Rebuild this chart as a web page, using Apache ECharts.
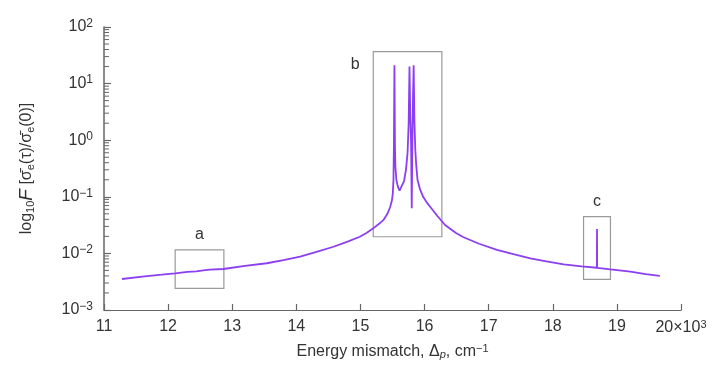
<!DOCTYPE html>
<html>
<head>
<meta charset="utf-8">
<script src="https://cdn.jsdelivr.net/npm/echarts@6/dist/echarts.min.js"></script>
<style>
  html, body { margin: 0; padding: 0; background: #fff; }
  #chart { width: 717px; height: 370px; }
</style>
</head>
<body>
<div id="chart"></div>
<script>
// energy mismatch, units of 10^3 cm-1
const xValues = [
  11.28, 11.6, 11.9, 12.11, 12.3, 12.44, 12.45, 12.455, 12.46, 12.55, 12.65, 12.66, 12.67, 12.86,
  13.2, 13.54, 13.8, 14.06, 14.3, 14.58, 14.8, 14.99, 15.1, 15.2, 15.3, 15.36, 15.42, 15.46,
  15.49, 15.505, 15.515, 15.522, 15.53, 15.538, 15.545, 15.56, 15.585, 15.61, 15.64, 15.68, 15.71,
  15.735, 15.752, 15.765, 15.778, 15.79, 15.80, 15.81, 15.82, 15.83, 15.842, 15.855, 15.87, 15.89,
  15.93, 15.98, 16.04, 16.09, 16.2, 16.32, 16.49, 16.6, 16.85, 17.13, 17.4, 17.65, 17.9, 18.17,
  18.45, 18.688, 18.69, 18.692, 18.9, 19.21, 19.45, 19.67
];
// F = sigma_e(tau)/sigma_e(0)
const fValues = [
  0.00353, 0.0039, 0.0042, 0.00445, 0.0047, 0.00482, 0.0052, 0.00455, 0.00484, 0.0050, 0.00515,
  0.0054, 0.00516, 0.0053, 0.0060, 0.0067, 0.0076, 0.00875, 0.0105, 0.0131, 0.0162, 0.0197,
  0.0232, 0.0277, 0.034, 0.039, 0.050, 0.064, 0.085, 0.115, 0.2, 0.8, 21, 0.8, 0.35, 0.2, 0.15,
  0.128, 0.138, 0.19, 0.3, 0.6, 2, 20, 2.5, 0.9, 0.063, 1, 6, 21, 2.2, 0.7, 0.36, 0.2,
  0.135, 0.099, 0.078, 0.066, 0.0458, 0.0318, 0.0229, 0.0195, 0.0148, 0.0115, 0.0096, 0.0082,
  0.0072, 0.0064, 0.0059, 0.00558, 0.027, 0.00556, 0.0052, 0.00475, 0.0043, 0.0040
];

const yDecades = [-3, -2, -1, 0, 1];
const minorMultipliers = [2, 3, 4, 5, 6, 7, 8, 9];

// boxes: name, x range, F range
const boxNames = ['a', 'b', 'c'];
const boxX = [[12.11, 12.87], [15.20, 16.27], [18.48, 18.90]];
const boxF = [[0.00242, 0.0115], [0.0197, 36.6], [0.00348, 0.0445]];

const minorTickData = [];
yDecades.forEach(d => {
  minorMultipliers.forEach(m => minorTickData.push([11, d + Math.log10(m)]));
});

const lineData = xValues.map((x, i) => [x, Math.log10(fValues[i])]);

const textColor = '#333';
const axisColor = '#666';
const font = 'Liberation Sans, Arial, sans-serif';

const boxLabelPos = ['top', [-22, 5], 'top'];
const markData = boxNames.map((name, i) => [
  {
    name,
    coord: [boxX[i][0], Math.log10(boxF[i][1])],
    label: { position: boxLabelPos[i] }
  },
  { coord: [boxX[i][1], Math.log10(boxF[i][0])] }
]);

const chart = echarts.init(document.getElementById('chart'));
chart.setOption({
  animation: false,
  grid: { left: 104, right: 36, top: 27, bottom: 60 },
  xAxis: {
    type: 'value',
    min: 11,
    max: 20,
    interval: 1,
    name: 'Energy mismatch, Δ{sub|p}, cm{sup|−1}',
    nameLocation: 'middle',
    nameGap: 33,
    nameTextStyle: {
      color: textColor, fontSize: 16, fontFamily: font,
      rich: {
        sub: { fontSize: 11, fontStyle: 'italic', verticalAlign: 'bottom', padding: [6, 0, 0, 0], color: textColor, fontFamily: font },
        sup: { fontSize: 11, verticalAlign: 'top', padding: [0, 0, 6, 0], color: textColor, fontFamily: font }
      }
    },
    splitLine: { show: false },
    axisLine: { onZero: false, lineStyle: { color: axisColor, width: 1.2 } },
    axisTick: { inside: true, length: 6, lineStyle: { color: axisColor, width: 1.2 } },
    axisLabel: {
      color: textColor, fontSize: 16, fontFamily: font, margin: 9,
      formatter: v => v === 20 ? '20×10{sup|3}' : String(v),
      rich: {
        sup: { fontSize: 11, verticalAlign: 'top', padding: [0, 0, 6, 0], color: textColor, fontFamily: font }
      }
    }
  },
  yAxis: {
    type: 'value',
    min: -3,
    max: 2,
    interval: 1,
    name: 'log{sub|10}{f|F} [σ\u0304{sub|e}(τ)/σ\u0304{sub|e}(0)]',
    nameLocation: 'middle',
    nameGap: 68,
    nameTextStyle: {
      color: textColor, fontSize: 16, fontFamily: font,
      rich: {
        sub: { fontSize: 11, verticalAlign: 'bottom', padding: [6, 0, 0, 0], color: textColor, fontFamily: font },
        f: { fontSize: 19, fontStyle: 'italic', color: textColor, fontFamily: font }
      }
    },
    splitLine: { show: false },
    axisLine: { show: true, onZero: false, lineStyle: { color: axisColor, width: 1.5 } },
    axisTick: { show: true, inside: true, length: 7, lineStyle: { color: axisColor, width: 1.2 } },
    axisLabel: {
      color: textColor, fontSize: 16, fontFamily: font, margin: 11,
      formatter: v => '10{sup|' + String(v).replace('-', '−') + '}',
      rich: {
        sup: { fontSize: 12, verticalAlign: 'top', padding: [0, 0, 7, 0], color: textColor, fontFamily: font }
      }
    }
  },
  series: [
    {
      type: 'line',
      data: lineData,
      showSymbol: false,
      symbol: 'none',
      z: 3,
      lineStyle: { color: '#8c3ff0', width: 1.8 },
      markArea: {
        silent: true,
        itemStyle: { color: 'rgba(0,0,0,0)', borderColor: '#9a9a9a', borderWidth: 1.2 },
        label: { show: true, color: textColor, fontSize: 16, fontFamily: font, distance: 7 },
        data: markData
      }
    },
    {
      // log minor ticks on the y axis
      type: 'custom',
      silent: true,
      clip: false,
      z: 4,
      data: minorTickData,
      encode: { x: 0, y: 1 },
      renderItem: (params, api) => {
        const p = api.coord([api.value(0), api.value(1)]);
        return {
          type: 'line',
          shape: { x1: p[0], y1: p[1], x2: p[0] + 5, y2: p[1] },
          style: { stroke: '#666', lineWidth: 1 }
        };
      }
    }
  ]
});
</script>
</body>
</html>
